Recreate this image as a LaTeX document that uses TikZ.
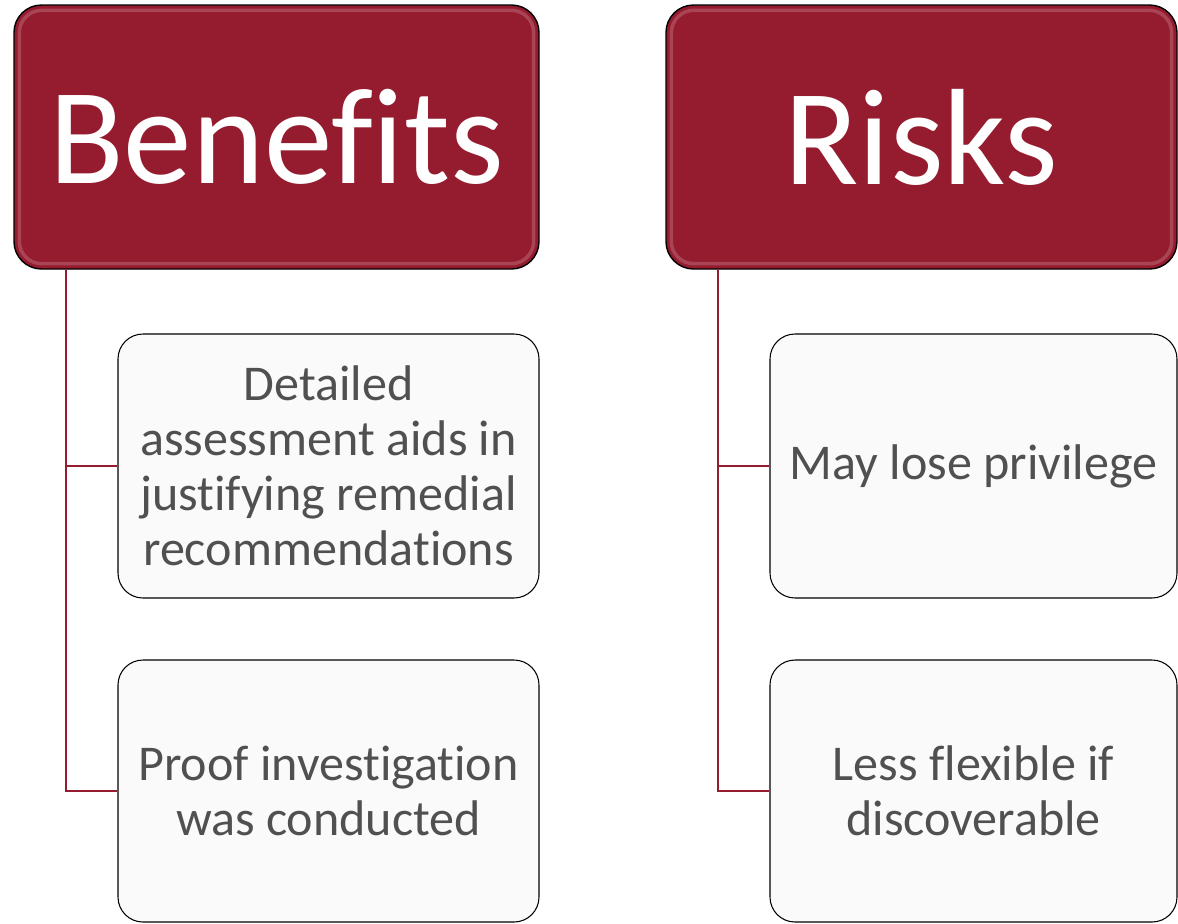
\documentclass[tikz,border=0pt]{standalone}
\usepackage{fontspec}
\setmainfont[Ligatures=NoCommon]{Carlito}
\definecolor{headred}{RGB}{149,27,47}
\definecolor{itemgray}{RGB}{80,80,80}
\definecolor{itemfill}{RGB}{250,250,250}
\tikzset{
  head/.style={draw=black, line width=0.8pt, fill=headred, rounded corners=0.55cm,
    minimum width=10.5cm, minimum height=5.28cm, inner sep=0pt,
    text=white, font=\fontsize{78}{80}\selectfont},
  shine/.style={draw=white, opacity=0.18, line width=2pt, rounded corners=0.45cm},
  item/.style={draw=black, line width=0.6pt, fill=itemfill, rounded corners=0.5cm,
    minimum width=8.42cm, minimum height=5.28cm, inner sep=0pt, align=center,
    text=itemgray, font=\fontsize{28.5}{31.2}\selectfont},
  link/.style={draw=headred, line width=1.1pt}
}
\begin{document}
\begin{tikzpicture}
  \useasboundingbox (0,0) rectangle (23.56,-18.46);
  \clip (0,0) rectangle (23.56,-18.46);

  % column headers
  \node[head] (ben) at (5.53,-2.74) {Benefits};
  \node[head, minimum width=10.22cm] (risk) at (18.43,-2.74) {Risks};
  \draw[shine] ([shift={(0.12,-0.12)}]ben.north west) rectangle ([shift={(-0.12,0.12)}]ben.south east);
  \draw[shine] ([shift={(0.12,-0.12)}]risk.north west) rectangle ([shift={(-0.12,0.12)}]risk.south east);

  % items under each header
  \node[item] (b1) at (6.57,-9.32) {Detailed\\assessment aids in\\justifying remedial\\recommendations};
  \node[item, minimum height=5.24cm] (b2) at (6.57,-15.82) {Proof investigation\\was conducted};
  \node[item, minimum width=8.14cm] (r1) at (19.47,-9.32) {May lose privilege};
  \node[item, minimum width=8.14cm, minimum height=5.24cm] (r2) at (19.47,-15.82) {Less flexible if\\discoverable};

  % tree lines
  \draw[link] ([xshift=1.06cm]ben.south west) |- (b1.west);
  \draw[link] ([xshift=1.06cm]ben.south west) |- (b2.west);
  \draw[link] ([xshift=1.06cm]risk.south west) |- (r1.west);
  \draw[link] ([xshift=1.06cm]risk.south west) |- (r2.west);
\end{tikzpicture}
\end{document}
